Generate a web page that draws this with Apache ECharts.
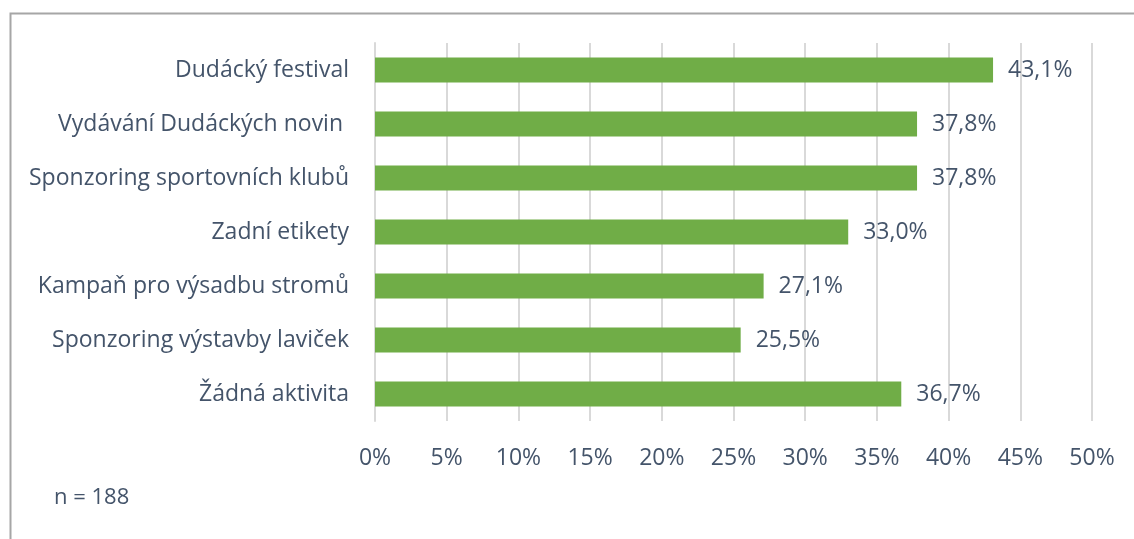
<!DOCTYPE html>
<html>
<head>
<meta charset="utf-8">
<script src="https://cdn.jsdelivr.net/npm/echarts@6/dist/echarts.min.js"></script>
<style>
  html, body { margin: 0; padding: 0; background: #fff; }
  #chart { width: 1134px; height: 539px; }
</style>
</head>
<body>
<div id="chart"></div>
<script>
  // categories from top to bottom
  const categories = [
    'Dudácký festival',
    'Vydávání Dudáckých novin ',
    'Sponzoring sportovních klubů',
    'Zadní etikety',
    'Kampaň pro výsadbu stromů',
    'Sponzoring výstavby laviček',
    'Žádná aktivita'
  ];
  const values = [43.1, 37.8, 37.8, 33.0, 27.1, 25.5, 36.7];
  const axisMax = 50;
  const axisStep = 5;
  const noteText = 'n = 188';

  const textColor = '#44546a';
  const fontName = '"Open Sans", sans-serif';

  const chart = echarts.init(document.getElementById('chart'));
  chart.setOption({
    animation: false,
    grid: { left: 375, right: 42, top: 43, bottom: 118 },
    graphic: [
      {
        type: 'rect',
        shape: { x: 10.5, y: 13.5, width: 1200, height: 600 },
        style: { fill: 'none', stroke: '#a6a6a6', lineWidth: 2 }
      },
      {
        type: 'text',
        left: 54,
        top: 487,
        style: { text: noteText, fill: textColor, font: '22px ' + fontName }
      }
    ],
    xAxis: {
      type: 'value',
      min: 0,
      max: axisMax,
      interval: axisStep,
      axisLine: { show: false },
      axisTick: { show: false },
      splitLine: { lineStyle: { color: '#d9d9d9', width: 2 } },
      axisLabel: {
        formatter: '{value}%',
        color: textColor,
        fontSize: 23,
        fontFamily: fontName,
        margin: 26
      }
    },
    yAxis: {
      type: 'category',
      inverse: true,
      data: categories,
      axisLine: { show: true, lineStyle: { color: '#d9d9d9', width: 2 } },
      axisTick: { show: false },
      axisLabel: {
        color: textColor,
        fontSize: 23,
        fontFamily: fontName,
        margin: 26
      }
    },
    series: [{
      type: 'bar',
      data: values,
      barWidth: 25,
      itemStyle: { color: '#70ad47' },
      label: {
        show: true,
        position: 'right',
        distance: 15,
        color: textColor,
        fontSize: 23,
        fontFamily: fontName,
        formatter: p => p.value.toFixed(1).replace('.', ',') + '%'
      }
    }]
  });
</script>
</body>
</html>
